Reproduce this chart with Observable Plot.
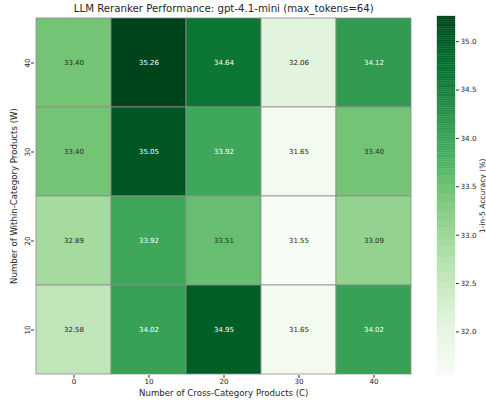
<!DOCTYPE html>
<html><head><meta charset="utf-8">
<script src="https://cdn.jsdelivr.net/npm/d3@7"></script>
<script src="https://cdn.jsdelivr.net/npm/@observablehq/plot@0.6"></script>
<style>
body{margin:0;background:#fff;}
#wrap{position:relative;width:486px;height:403px;font-family:"DejaVu Sans",sans-serif;}
#wrap svg{position:absolute;left:0;top:0;background:transparent;}
</style></head>
<body><div id="wrap"></div>
<script>
const crossC = [0, 10, 20, 30, 40];
const withinW = [40, 30, 20, 10];
const row40 = [33.40, 35.26, 34.64, 32.06, 34.12];
const row30 = [33.40, 35.05, 33.92, 31.65, 33.40];
const row20 = [32.89, 33.92, 33.51, 31.55, 33.09];
const row10 = [32.58, 34.02, 34.95, 31.65, 34.02];
const cbTicks = [32.0, 32.5, 33.0, 33.5, 34.0, 34.5, 35.0];
const vmin = 31.55, vmax = 35.26;
const greens = ["#f7fcf5","#e5f5e0","#c7e9c0","#a1d99b","#74c476","#41ab5d","#238b45","#006d2c","#00441b"];
const interp = d3.piecewise(d3.interpolateRgb, greens);
const colorOf = v => interp(Math.max(0, Math.min(1, (v - vmin) / (vmax - vmin))));

const rows = {40: row40, 30: row30, 20: row20, 10: row10};
const data = [];
for (const w of withinW) rows[w].forEach((v, i) => data.push({c: crossC[i], w, v}));

function lum(col) {
  const c = d3.rgb(col);
  const f = x => { x /= 255; return x <= 0.03928 ? x / 12.92 : Math.pow((x + 0.055) / 1.055, 2.4); };
  return 0.2126 * f(c.r) + 0.7152 * f(c.g) + 0.0722 * f(c.b);
}
const dark = data.filter(d => lum(colorOf(d.v)) > 0.408);
const light = data.filter(d => lum(colorOf(d.v)) <= 0.408);

const W = 486, H = 403;
const main = Plot.plot({
  width: W, height: H,
  marginLeft: 34, marginRight: 73.5, marginTop: 16, marginBottom: 28,
  style: {fontFamily: "DejaVu Sans", color: "#262626", background: "transparent"},
  x: {type: "band", domain: crossC, padding: 0, label: null},
  y: {type: "band", domain: withinW, padding: 0, label: null},
  color: {type: "linear", domain: [vmin, vmax], interpolate: interp},
  marks: [
    Plot.cell(data, {x: "c", y: "w", fill: "v", stroke: "#8e8e8e", strokeWidth: 0.8}),
    Plot.text(dark, {x: "c", y: "w", text: d => d.v.toFixed(2), fill: "#262626", fontSize: 7}),
    Plot.text(light, {x: "c", y: "w", text: d => d.v.toFixed(2), fill: "white", fontSize: 7}),
    Plot.axisX({tickSize: 3, tickPadding: 0.5, fontSize: 7.2, label: null, stroke: "#333"}),
    Plot.axisY({tickSize: 3, tickFormat: () => "", label: null, stroke: "#333"}),
    Plot.text(withinW, {y: d => d, text: d => String(d), frameAnchor: "left", textAnchor: "middle", lineAnchor: "bottom", dx: -5, rotate: -90, fontSize: 7.2, fill: "#262626"}),
    Plot.text(["Number of Cross-Category Products (C)"], {frameAnchor: "bottom", textAnchor: "middle", lineAnchor: "middle", dy: 18, fontSize: 8.6, fill: "#262626"}),
    Plot.text(["Number of Within-Category Products (W)"], {frameAnchor: "left", textAnchor: "middle", lineAnchor: "middle", dx: -20, rotate: -90, fontSize: 8.6, fill: "#262626"}),
    Plot.text(["LLM Reranker Performance: gpt-4.1-mini (max_tokens=64)"], {frameAnchor: "top", textAnchor: "middle", lineAnchor: "middle", dy: -8, fontSize: 10.2, fill: "#262626"})
  ]
});

const N = 200;
const steps = d3.range(N).map(i => ({y1: vmin + (vmax - vmin) * i / N, y2: vmin + (vmax - vmin) * (i + 1) / N}));
const cbar = Plot.plot({
  width: W, height: H,
  marginLeft: 437, marginRight: 31, marginTop: 16, marginBottom: 28,
  style: {fontFamily: "DejaVu Sans", color: "#262626", background: "transparent"},
  x: {domain: [0, 1], axis: null},
  y: {domain: [vmin, vmax], label: null},
  marks: [
    Plot.rect(steps, {x1: 0, x2: 1, y1: "y1", y2: "y2", fill: d => colorOf((d.y1 + d.y2) / 2), stroke: d => colorOf((d.y1 + d.y2) / 2), strokeWidth: 0.3}),
    Plot.axisY({anchor: "right", ticks: cbTicks, tickFormat: d3.format(".1f"), tickSize: 3, tickPadding: 2, fontSize: 7.2, label: null, stroke: "#333"}),
    Plot.text(["1-in-5 Accuracy (%)"], {frameAnchor: "right", textAnchor: "middle", lineAnchor: "middle", dx: 27, rotate: -90, fontSize: 7.6, fill: "#262626"})
  ]
});
document.getElementById("wrap").append(main, cbar);
</script></body></html>
